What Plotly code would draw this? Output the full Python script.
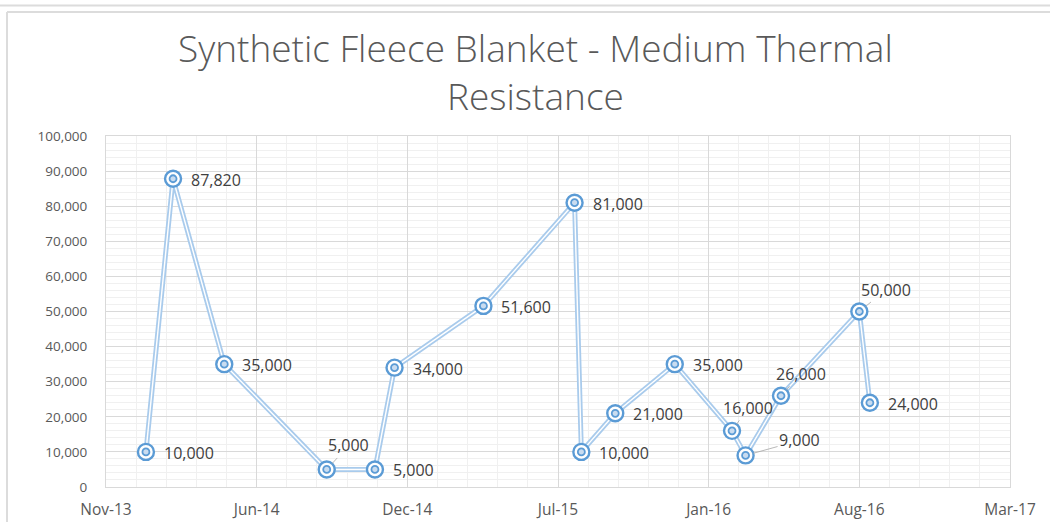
import plotly.graph_objects as go

# ---- data ----
dates = ["2014-01-11", "2014-02-16", "2014-04-25", "2014-09-08", "2014-11-11",
         "2014-12-07", "2015-04-04", "2015-08-03", "2015-08-12", "2015-09-26",
         "2015-12-14", "2016-02-28", "2016-03-17", "2016-05-03", "2016-08-15",
         "2016-08-29"]
values = [10000, 87820, 35000, 5000, 5000, 34000, 51600, 81000, 10000, 21000,
          35000, 16000, 9000, 26000, 50000, 24000]
y_ticks = [0, 10000, 20000, 30000, 40000, 50000, 60000, 70000, 80000, 90000, 100000]
title_text = "Synthetic Fleece Blanket - Medium Thermal<br>Resistance"

# label placement (pixel offsets) for the data labels with leader lines
leader_offsets = {3: (22, -24), 11: (16, -23), 12: (54, -15), 13: (20, -22), 14: (27, -22)}

BLUE = "#5b9bd5"
LINE_BLUE = "#a9cbec"
GREY_TXT = "#595959"
FONT = "Open Sans"

fig = go.Figure()
# compound (double) line: wide light blue with a white core
fig.add_trace(go.Scatter(x=dates, y=values, mode="lines",
                         line=dict(color=LINE_BLUE, width=5), hoverinfo="skip",
                         showlegend=False))
fig.add_trace(go.Scatter(x=dates, y=values, mode="lines",
                         line=dict(color="white", width=1.4), hoverinfo="skip",
                         showlegend=False))
# bullseye markers
fig.add_trace(go.Scatter(x=dates, y=values, mode="markers",
                         marker=dict(symbol="circle", size=16, color="white",
                                     line=dict(color=BLUE, width=2.4)),
                         showlegend=False))
fig.add_trace(go.Scatter(x=dates, y=values, mode="markers",
                         marker=dict(symbol="circle", size=7, color="#c9dcf0",
                                     line=dict(color=BLUE, width=1.8)),
                         showlegend=False, hoverinfo="skip"))

# plot-area pixel box
L, R, T, B = 106, 1010, 136, 487
W, H = R - L, B - T
def px(xp):
    return (xp - L) / W
def py(yp):
    return (B - yp) / H

annotations = []
for i, (d, v) in enumerate(zip(dates, values)):
    txt = f"{v:,}"
    if i in leader_offsets:
        ax, ay = leader_offsets[i]
        annotations.append(dict(x=d, y=v, xref="x", yref="y", text=txt,
                                showarrow=True, arrowhead=0, arrowwidth=0.8,
                                arrowcolor="#a6a6a6", ax=ax, ay=ay, standoff=8,
                                font=dict(family=FONT, size=16, color="#404040")))
    else:
        annotations.append(dict(x=d, y=v, xref="x", yref="y", text=txt,
                                showarrow=False, xanchor="left", yanchor="middle",
                                xshift=16, yshift=-1,
                                font=dict(family=FONT, size=16, color="#404040")))

# title
annotations.append(dict(text=title_text, xref="paper", yref="paper",
                        x=px(535), y=py(72), xanchor="center", yanchor="middle",
                        showarrow=False,
                        font=dict(family=FONT, size=37, color=GREY_TXT, weight=300)))

# chart frame lines (outside the plot area, paper coords)
shapes = [
    dict(type="line", xref="paper", yref="paper", x0=px(0), x1=px(1050), y0=py(5.5), y1=py(5.5),
         line=dict(color="#dcdcdc", width=2)),
    dict(type="line", xref="paper", yref="paper", x0=px(7), x1=px(1050), y0=py(12), y1=py(12),
         line=dict(color="#dcdcdc", width=2)),
    dict(type="line", xref="paper", yref="paper", x0=px(7), x1=px(7), y0=py(12), y1=py(522),
         line=dict(color="#dcdcdc", width=2)),
]

fig.update_layout(
    width=1050, height=522,
    margin=dict(l=L, r=1050 - R, t=T, b=522 - B),
    paper_bgcolor="white", plot_bgcolor="white",
    annotations=annotations, shapes=shapes,
    hovermode="closest",
)

fig.update_xaxes(
    type="date", range=["2013-11-19", "2017-03-03"],
    tick0="2013-11-19", dtick=200 * 86400000, tickformat="%b-%y",
    showgrid=True, gridcolor="#d9d9d9", gridwidth=1,
    minor=dict(dtick=40 * 86400000, tick0="2013-11-19", showgrid=True,
               gridcolor="#f0f0f0", gridwidth=1),
    showline=True, linecolor="#d9d9d9", linewidth=1, mirror=True,
    ticks="", zeroline=False, ticklabelstandoff=8, automargin=False,
    tickfont=dict(family=FONT, size=15.5, color=GREY_TXT),
)
fig.update_yaxes(
    range=[0, 100000], tickvals=y_ticks, tickformat=",",
    showgrid=True, gridcolor="#d9d9d9", gridwidth=1,
    minor=dict(dtick=2000, showgrid=True, gridcolor="#f0f0f0", gridwidth=1),
    showline=True, linecolor="#d9d9d9", linewidth=1, mirror=True,
    ticks="", zeroline=False, ticklabelstandoff=15, automargin=False,
    tickfont=dict(family=FONT, size=13.5, color=GREY_TXT),
)

fig.write_html("out.html", config={"displayModeBar": False},
               post_script="document.body.style.margin='0px';")
